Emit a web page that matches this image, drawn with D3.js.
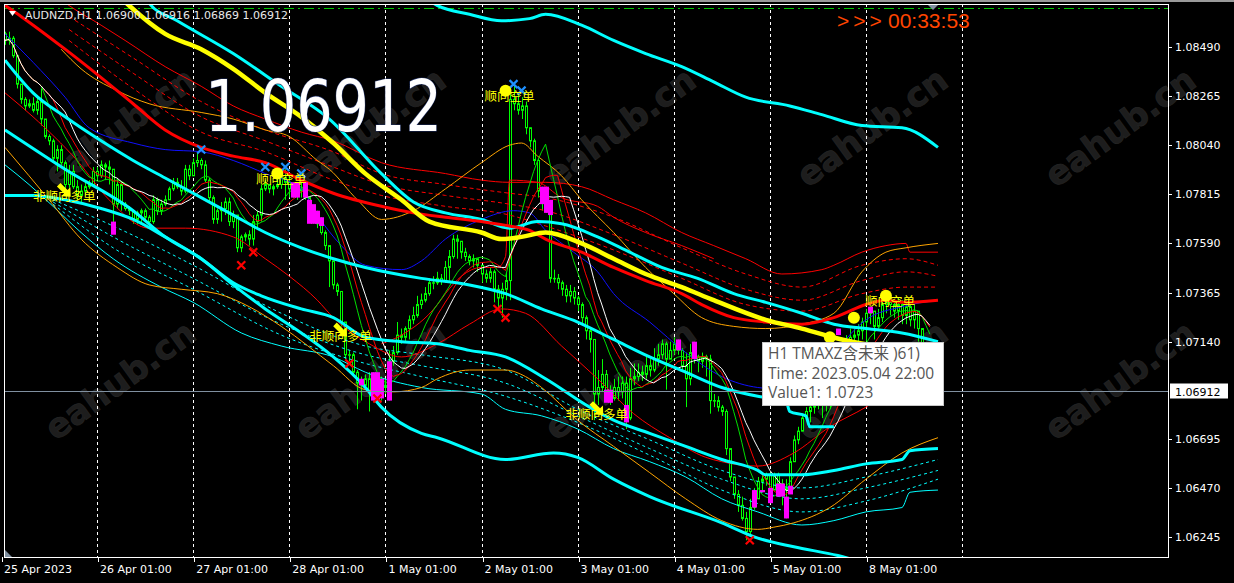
<!DOCTYPE html>
<html><head><meta charset="utf-8">
<script src="https://cdn.jsdelivr.net/npm/d3@7"></script>
<style>html,body{margin:0;padding:0;background:#000;overflow:hidden}svg{display:block}</style>
</head><body>
<svg id="c" width="1234" height="583"></svg>
<script>
// ---------------- DATA ----------------
const symbol = "AUDNZD,H1";
const headerOHLC = ["1.06900","1.06916","1.06869","1.06912"];
const bigPrice = "1.06912";
const countdown = "00:33:53";
const lastPrice = 1.06912;
const priceTicks = [1.08490,1.08265,1.08040,1.07815,1.07590,1.07365,1.07140,1.06695,1.06470,1.06245];
const dayStarts = [0,24,48,72,96,120,144,168,192,216,240];
const dayLabels = ["25 Apr 2023","26 Apr 01:00","27 Apr 01:00","28 Apr 01:00","1 May 01:00","2 May 01:00","3 May 01:00","4 May 01:00","5 May 01:00","8 May 01:00"];
const hLine = 1.0867;
const firstOpen = 1.0855;
const closes = [
1.0852,1.0853,1.0845,1.0832,1.0825,1.0822,1.0823,1.0820,1.0824,1.0816,
1.0808,1.0806,1.0798,1.0802,1.0796,1.0786,1.0792,1.0785,1.0781,1.0783,
1.0785,1.0786,1.0792,1.0790,1.0795,1.0794,1.0793,1.0777,1.0786,1.0777,
1.0775,1.0774,1.0770,1.0773,1.0774,1.0771,1.0769,1.0779,1.0774,1.0777,
1.0779,1.0784,1.0787,1.0785,1.0783,1.0793,1.0790,1.0796,1.0797,1.0795,
1.0788,1.0780,1.0770,1.0774,1.0775,1.0778,1.0769,1.0772,1.0757,1.0762,
1.0763,1.0761,1.0769,1.0772,1.0784,1.0786,1.0784,1.0785,1.0786,1.0789,
1.0787,1.0784,1.0781,1.0783,1.0784,1.0780,1.0772,1.0770,1.0768,1.0764,
1.0758,1.0751,1.0740,1.0737,1.0723,1.0708,1.0708,1.0700,1.0695,1.0694,
1.0697,1.0691,1.0692,1.0689,1.0694,1.0693,1.0705,1.0709,1.0717,1.0716,
1.0720,1.0724,1.0726,1.0731,1.0733,1.0736,1.0741,1.0741,1.0743,1.0742,
1.0748,1.0753,1.0761,1.0760,1.0755,1.0753,1.0751,1.0752,1.0749,1.0745,
1.0743,1.0746,1.0738,1.0734,1.0738,1.0742,1.0825,1.0823,1.0820,1.0822,
1.0812,1.0806,1.0797,1.0783,1.0780,1.0777,1.0743,1.0743,1.0741,1.0738,
1.0735,1.0737,1.0734,1.0731,1.0725,1.0719,1.0715,1.0690,1.0693,1.0699,
1.0690,1.0688,1.0693,1.0691,1.0695,1.0679,1.0697,1.0698,1.0700,1.0699,
1.0703,1.0701,1.0706,1.0708,1.0713,1.0706,1.0710,1.0713,1.0710,1.0703,
1.0697,1.0709,1.0707,1.0705,1.0707,1.0706,1.0687,1.0687,1.0684,1.0682,
1.0665,1.0652,1.0644,1.0639,1.0633,1.0627,1.0638,1.0642,1.0650,1.0651,
1.0653,1.0646,1.0653,1.0649,1.0646,1.0647,1.0659,1.0669,1.0673,1.0679,
1.0682,1.0684,1.0685,1.0687,1.0685,1.0690,1.0697,1.0701,1.0706,1.0710,
1.0713,1.0716,1.0717,1.0719,1.0723,1.0727,1.0728,1.0721,1.0725,1.0731,
1.0732,1.0731,1.0728,1.0731,1.0726,1.0730,1.0724,1.0728,1.0720,1.0706,
1.0690,1.06912];
const highs = [
1.0856,1.0856,1.0854,1.0845,1.0832,1.0826,1.0825,1.0826,1.0827,1.0830,
1.0816,1.0809,1.0807,1.0804,1.0804,1.0797,1.0795,1.0795,1.0788,1.0786,
1.0787,1.0788,1.0794,1.0794,1.0797,1.0796,1.0797,1.0790,1.0789,1.0787,
1.0778,1.0776,1.0774,1.0774,1.0775,1.0775,1.0772,1.0781,1.0780,1.0779,
1.0781,1.0785,1.0789,1.0789,1.0788,1.0795,1.0795,1.0798,1.0801,1.0798,
1.0797,1.0789,1.0781,1.0775,1.0778,1.0780,1.0780,1.0774,1.0771,1.0763,
1.0764,1.0765,1.0772,1.0774,1.0786,1.0788,1.0786,1.0786,1.0789,1.0792,
1.0793,1.0790,1.0787,1.0785,1.0788,1.0788,1.0780,1.0774,1.0774,1.0771,
1.0765,1.0758,1.0744,1.0741,1.0737,1.0723,1.0710,1.0709,1.0701,1.0698,
1.0699,1.0700,1.0700,1.0699,1.0698,1.0697,1.0710,1.0712,1.0723,1.0720,
1.0721,1.0726,1.0730,1.0735,1.0736,1.0739,1.0743,1.0744,1.0746,1.0745,
1.0751,1.0756,1.0763,1.0763,1.0758,1.0757,1.0754,1.0754,1.0752,1.0748,
1.0747,1.0748,1.0747,1.0740,1.0741,1.0746,1.0830,1.0832,1.0827,1.0826,
1.0824,1.0812,1.0807,1.0798,1.0785,1.0784,1.0777,1.0747,1.0745,1.0742,
1.0740,1.0740,1.0739,1.0735,1.0732,1.0726,1.0720,1.0715,1.0701,1.0706,
1.0701,1.0694,1.0697,1.0698,1.0698,1.0698,1.0702,1.0704,1.0704,1.0703,
1.0707,1.0706,1.0711,1.0713,1.0715,1.0714,1.0714,1.0716,1.0715,1.0711,
1.0709,1.0713,1.0714,1.0708,1.0709,1.0708,1.0708,1.0690,1.0689,1.0685,
1.0683,1.0665,1.0652,1.0646,1.0643,1.0636,1.0642,1.0647,1.0652,1.0653,
1.0654,1.0654,1.0654,1.0654,1.0651,1.0651,1.0661,1.0671,1.0675,1.0681,
1.0684,1.0686,1.0687,1.0690,1.0688,1.0692,1.0699,1.0705,1.0709,1.0715,
1.0717,1.0720,1.0720,1.0722,1.0725,1.0729,1.0730,1.0725,1.0729,1.0733,
1.0735,1.0734,1.0733,1.0734,1.0733,1.0733,1.0731,1.0731,1.0723,1.0720,
1.0707,1.06916];
const lows = [
1.0850,1.0850,1.0844,1.0830,1.0823,1.0820,1.0821,1.0819,1.0818,1.0813,
1.0807,1.0804,1.0796,1.0792,1.0795,1.0784,1.0781,1.0784,1.0779,1.0778,
1.0781,1.0784,1.0785,1.0788,1.0789,1.0788,1.0786,1.0764,1.0775,1.0774,
1.0774,1.0772,1.0768,1.0768,1.0768,1.0769,1.0766,1.0768,1.0772,1.0772,
1.0776,1.0779,1.0783,1.0784,1.0781,1.0782,1.0788,1.0790,1.0794,1.0793,
1.0787,1.0778,1.0768,1.0768,1.0769,1.0772,1.0767,1.0766,1.0755,1.0755,
1.0760,1.0758,1.0758,1.0766,1.0769,1.0783,1.0782,1.0781,1.0784,1.0784,
1.0779,1.0780,1.0780,1.0779,1.0780,1.0779,1.0769,1.0768,1.0766,1.0763,
1.0756,1.0739,1.0738,1.0735,1.0721,1.0706,1.0705,1.0698,1.0683,1.0687,
1.0692,1.0682,1.0688,1.0687,1.0687,1.0690,1.0687,1.0703,1.0708,1.0713,
1.0714,1.0715,1.0722,1.0725,1.0729,1.0732,1.0735,1.0738,1.0740,1.0740,
1.0741,1.0742,1.0752,1.0752,1.0752,1.0751,1.0749,1.0748,1.0746,1.0741,
1.0741,1.0741,1.0732,1.0728,1.0725,1.0733,1.0733,1.0820,1.0818,1.0816,
1.0809,1.0803,1.0795,1.0780,1.0774,1.0773,1.0741,1.0741,1.0738,1.0735,
1.0732,1.0732,1.0731,1.0728,1.0722,1.0715,1.0709,1.0678,1.0685,1.0691,
1.0687,1.0685,1.0687,1.0687,1.0688,1.0674,1.0678,1.0694,1.0696,1.0696,
1.0697,1.0698,1.0700,1.0703,1.0706,1.0692,1.0706,1.0708,1.0708,1.0700,
1.0684,1.0694,1.0704,1.0700,1.0702,1.0698,1.0681,1.0684,1.0682,1.0680,
1.0662,1.0650,1.0642,1.0636,1.0632,1.0623,1.0625,1.0637,1.0646,1.0645,
1.0648,1.0640,1.0650,1.0644,1.0639,1.0633,1.0646,1.0659,1.0667,1.0673,
1.0678,1.0677,1.0681,1.0683,1.0679,1.0682,1.0683,1.0694,1.0700,1.0705,
1.0708,1.0711,1.0713,1.0714,1.0715,1.0714,1.0722,1.0715,1.0720,1.0723,
1.0727,1.0726,1.0725,1.0724,1.0722,1.0722,1.0721,1.0720,1.0714,1.0703,
1.0688,1.06869];
// highlighted (magenta) bars: [bar, top, bottom]
const magentaBars = [[28,1.0769,1.0763],[73,1.0787,1.0780],[74,1.0787,1.0780],[76,1.0787,1.0780],[77,1.0779,1.0768],[78,1.0777,1.0768],[79,1.0774,1.0768],[80,1.0771,1.0767],
[90,1.0697,1.0694],[93,1.0700,1.0687],[94,1.0700,1.0687],[95,1.0697,1.0688],[97,1.0705,1.0687],[135,1.0785,1.0777],[136,1.0785,1.0773],[137,1.0779,1.0772],
[151,1.0692,1.0686],[152,1.0692,1.0686],[156,1.0685,1.0677],[169,1.0715,1.0710],[173,1.0714,1.0706],[188,1.0646,1.0638],[190,1.0646,1.0645],[192,1.0647,1.0640],
[194,1.0649,1.0643],[195,1.0649,1.0643],[196,1.0643,1.0633],[197,1.0648,1.0644],[209,1.0720,1.0717],[217,1.0730,1.0727]];
// indicator lines: [bar, price]
const yellowMA = [[28,1.0875],[32,1.0868],[41,1.0855],[50,1.0848],[58,1.0839],[66,1.0828],[75,1.0817],[83,1.0805],[91,1.0791],[100,1.0779],[107,1.0769],[120,1.0764],[125,1.0761],[130,1.0762],[136,1.0764],[145,1.0759],[153,1.0752],[161,1.0745],[170,1.0739],[178,1.0733],[191,1.0724],[200,1.0720],[210,1.0715],[234,1.0709]];
const cyanTop = [[103,1.0875],[109,1.0868],[117,1.0864],[125,1.0861],[132,1.0862],[136,1.0864],[145,1.0859],[153,1.0852],[161,1.0846],[170,1.0840],[178,1.0833],[186,1.0826],[197,1.0822],[205,1.0818],[215,1.0813],[225,1.0812],[234,1.0803]];
const cyanB = [[35,1.0875],[37,1.0869],[44,1.0861],[58,1.0846],[70,1.0831],[82,1.0816],[95,1.0791],[103,1.0778],[111,1.0773],[120,1.0770],[127,1.0766],[134,1.0769],[140,1.0768],[149,1.0762],[157,1.0755],[165,1.0748],[174,1.0743],[183,1.0736],[191,1.0732],[200,1.0727],[208,1.0722],[216,1.0720],[225,1.0718],[234,1.0714]];
const cyanC = [[1,1.0843],[8,1.0828],[16,1.0817],[25,1.0806],[33,1.0797],[41,1.0789],[50,1.0780],[58,1.0772],[66,1.0764],[75,1.0757],[83,1.0752],[91,1.0748],[105,1.0743],[117,1.0740],[126,1.0736],[135,1.0729],[144,1.0723],[153,1.0715],[162,1.0707],[171,1.0700],[180,1.0693],[189,1.0689],[196,1.0687],[197,1.0682],[201,1.0680],[202,1.0675],[208,1.0675]];
const cyanD = [[1,1.0811],[16,1.0793],[33,1.0774],[41,1.0762],[50,1.0752],[58,1.0740],[66,1.0729],[75,1.0718],[83,1.0707],[91,1.0693],[95,1.0684],[105,1.0672],[109,1.0670],[126,1.0660],[138,1.0663],[144,1.0661],[153,1.0651],[162,1.0643],[180,1.0631],[189,1.0624],[198,1.0620],[209,1.0616],[215,1.0613]];
const cyanE = [[1,1.0781],[8,1.0781],[16,1.0779],[25,1.0775],[33,1.0770],[41,1.0762],[50,1.0752],[58,1.0741],[65,1.0735],[75,1.0729],[83,1.0725],[91,1.0716],[100,1.0714],[109,1.0713],[117,1.0710],[126,1.0707],[136,1.0697],[147,1.0684],[153,1.0678],[162,1.0672],[171,1.0666],[180,1.0660],[189,1.0655],[191,1.0653],[200,1.0653],[208,1.0655],[216,1.0658],[225,1.0660],[227,1.0664],[234,1.0665]];
const redMA = [[1,1.0868],[5,1.0863],[16,1.0848],[25,1.0835],[33,1.0823],[41,1.0811],[50,1.0803],[58,1.0799],[66,1.0796],[75,1.0788],[83,1.0782],[95,1.0776],[103,1.0773],[111,1.0771],[120,1.0769],[127,1.0767],[132,1.0765],[136,1.0761],[145,1.0755],[153,1.0748],[161,1.0742],[170,1.0736],[175,1.0731],[183,1.0725],[191,1.0723],[200,1.0722],[208,1.0725],[216,1.0731],[221,1.0733],[225,1.0732],[234,1.0733]];
const redUpper = [[12,1.0875],[17,1.0868],[25,1.0859],[31,1.0852],[41,1.0840],[50,1.0831],[58,1.0822],[66,1.0816],[75,1.0810],[83,1.0806],[95,1.0796],[111,1.0791],[120,1.0788],[127,1.0787],[136,1.0787],[145,1.0785],[153,1.0779],[161,1.0773],[170,1.0764],[178,1.0758],[186,1.0752],[195,1.0745],[205,1.0747],[208,1.0749],[215,1.0755],[221,1.0758],[226,1.0759],[227,1.0755],[234,1.0755]];
const redDash1 = [[17,1.0863],[33,1.0844],[50,1.0824],[66,1.0811],[83,1.0801],[95,1.0791],[111,1.0786],[127,1.0782],[136,1.0780],[153,1.0771],[170,1.0757],[186,1.0745],[200,1.0739],[215,1.0749],[226,1.0752],[234,1.0749]];
const redDash2 = [[17,1.0857],[33,1.0837],[50,1.0817],[66,1.0806],[83,1.0794],[95,1.0786],[111,1.0781],[127,1.0777],[136,1.0774],[153,1.0763],[170,1.0750],[186,1.0738],[200,1.0733],[215,1.0742],[226,1.0746],[234,1.0744]];
const redDash3 = [[17,1.0852],[33,1.0830],[50,1.0810],[66,1.0801],[83,1.0788],[95,1.0781],[111,1.0776],[127,1.0772],[136,1.0767],[153,1.0756],[170,1.0743],[186,1.0731],[200,1.0728],[215,1.0736],[226,1.0739],[234,1.0739]];
const redLower = [[1,1.0828],[8,1.0817],[19,1.0797],[27,1.0779],[37,1.0766],[46,1.0766],[58,1.0762],[66,1.0752],[72,1.0744],[79,1.0733],[83,1.0725],[92,1.0713],[100,1.0707],[109,1.0713],[117,1.0722],[125,1.0729],[131,1.0727],[140,1.0712],[149,1.0697],[158,1.0681],[167,1.0670],[176,1.0661],[180,1.0659],[189,1.0657],[198,1.0663],[207,1.0675],[216,1.0684],[225,1.0695],[234,1.0704]];
const redBand = [[95,1.0713],[100,1.0717],[109,1.0731],[111,1.0736],[115,1.0744],[120,1.0748],[124,1.0748],[126,1.0753],[127,1.0788],[134,1.0787],[140,1.0780],[149,1.0776],[153,1.0771],[161,1.0764],[170,1.0758],[178,1.0752]];
const orangeUpper = [[15,1.0848],[20,1.0839],[29,1.0829],[37,1.0823],[50,1.0819],[58,1.0816],[66,1.0811],[72,1.0808],[79,1.0797],[82,1.0793],[89,1.0779],[95,1.0770],[103,1.0774],[111,1.0784],[120,1.0796],[127,1.0804],[130,1.0805],[134,1.0799],[140,1.0790],[145,1.0779],[153,1.0764],[161,1.0748],[168,1.0736],[175,1.0725],[183,1.0721],[191,1.0720],[200,1.0722],[208,1.0727],[215,1.0746],[221,1.0755],[226,1.0757],[234,1.0759]];
const orangeLower = [[1,1.0803],[7,1.0790],[12,1.0779],[20,1.0761],[29,1.0748],[37,1.0740],[45,1.0738],[54,1.0736],[62,1.0730],[70,1.0721],[83,1.0703],[91,1.0692],[98,1.0691],[105,1.0693],[109,1.0697],[117,1.0701],[126,1.0701],[131,1.0698],[135,1.0693],[144,1.0678],[153,1.0666],[162,1.0654],[171,1.0642],[180,1.0632],[189,1.0628],[193,1.0629],[198,1.0631],[207,1.0638],[216,1.0651],[225,1.0663],[234,1.0670]];
const blueMA = [[1,1.0855],[8,1.0842],[16,1.0826],[22,1.0812],[33,1.0805],[41,1.0802],[50,1.0801],[58,1.0797],[66,1.0791],[75,1.0784],[79,1.0772],[85,1.0758],[91,1.0749],[100,1.0747],[105,1.0751],[111,1.0761],[120,1.0770],[128,1.0774],[132,1.0773],[136,1.0765],[143,1.0755],[149,1.0746],[153,1.0736],[162,1.0723],[171,1.0709],[180,1.0698],[189,1.0693],[197,1.0692],[205,1.0699],[211,1.0715],[216,1.0724],[225,1.0730],[234,1.0733]];
const cyanThin = [[1,1.0795],[7,1.0786],[13,1.0776],[20,1.0764],[28,1.0752],[40,1.0739],[48,1.0732],[60,1.0718],[70,1.0712],[83,1.0707],[91,1.0700],[105,1.0693],[120,1.0690],[126,1.0683],[135,1.0680],[144,1.0674],[153,1.0665],[162,1.0659],[171,1.0652],[180,1.0642],[189,1.0636],[200,1.0630],[208,1.0632],[216,1.0636],[225,1.0638],[227,1.0645],[234,1.0646]];
const cyanDash1 = [[13,1.0779],[28,1.0767],[48,1.0749],[70,1.0727],[91,1.0712],[105,1.0708],[126,1.0701],[144,1.0683],[162,1.0669],[180,1.0655],[200,1.0647],[216,1.0652],[234,1.0660]];
const cyanDash2 = [[13,1.0778],[28,1.0762],[48,1.0743],[70,1.0722],[91,1.0708],[105,1.0703],[126,1.0695],[144,1.0680],[162,1.0665],[180,1.0651],[200,1.0642],[216,1.0647],[234,1.0655]];
const cyanDash3 = [[13,1.0777],[28,1.0757],[48,1.0738],[70,1.0717],[91,1.0704],[105,1.0698],[126,1.0689],[144,1.0677],[162,1.0662],[180,1.0646],[200,1.0636],[216,1.0641],[234,1.0651]];
// signals
const blueCrosses = [[50,1.0802],[66,1.0794],[71,1.0794],[75,1.0791],[128,1.0832],[130,1.0829]];
const redCrosses = [[60,1.0749],[63,1.0755],[87,1.0704],[94,1.0688],[124,1.0729],[126,1.0725],[187,1.0623]];
const buySignals = [[16,1.0783],[85,1.0719],[149,1.0683]];
const sellSignals = [[69,1.0791],[126,1.0829],[221,1.0735]];
const sellDots = [[207,1.0716],[213,1.0725]];
const buyText = "非顺向多单";
const sellText = "顺向空单";
const tooltipLines = ["H1 TMAXZ含未来 )61)","Time: 2023.05.04 22:00","Value1: 1.0723"];
const watermark = "eahub.cn";

// ---------------- DRAW ----------------
const svg = d3.select("#c");
const L = 4, R = 1168, T = 4, B = 557;
const x = d3.scaleLinear().domain([0,240]).range([1,962]);
const y = d3.scaleLinear().domain([1.06245,1.08490]).range([537,47]);

svg.append("rect").attr("width",1234).attr("height",583).attr("fill","#000");
svg.append("rect").attr("x",0).attr("y",0).attr("width",1234).attr("height",2).attr("fill","#9a9a9a");
svg.append("defs").append("clipPath").attr("id","plot").append("rect")
  .attr("x",L).attr("y",T).attr("width",R-L).attr("height",B-T);

// watermarks (faint, behind the chart content)
const wm = [];
[127,380].forEach(cy=>[120,370,620,872,1120].forEach(cx=>wm.push([cx,cy])));
svg.selectAll("text.wm").data(wm).join("text")
  .attr("transform",d=>`translate(${d[0]},${d[1]}) rotate(-36)`)
  .attr("text-anchor","middle").attr("dominant-baseline","central").text(watermark)
  .attr("font-size",34).attr("font-weight","bold").attr("font-family","'DejaVu Sans',sans-serif")
  .attr("fill","#1d1d1d").attr("stroke","#242424").attr("stroke-width",0.8);

const g = svg.append("g").attr("clip-path","url(#plot)");

// grid
g.selectAll("line.grid").data(dayStarts.slice(1)).join("line")
  .attr("x1",d=>Math.round(x(d))+0.5).attr("x2",d=>Math.round(x(d))+0.5).attr("y1",T).attr("y2",B)
  .attr("stroke","#fff").attr("stroke-dasharray","3,3").attr("stroke-width",1);

// horizontal dash-dot line
g.append("line").attr("x1",L).attr("x2",R).attr("y1",Math.round(y(hLine))+0.5).attr("y2",Math.round(y(hLine))+0.5)
  .attr("stroke","#00c800").attr("stroke-dasharray","10,4,2,4");

// candles
const bars = closes.map((c,i)=>({t:i+1, o: i?closes[i-1]:firstOpen, h:highs[i], l:lows[i], c}));
const cg = g.append("g");
cg.selectAll("line").data(bars).join("line")
  .attr("x1",d=>Math.round(x(d.t))+0.5).attr("x2",d=>Math.round(x(d.t))+0.5)
  .attr("y1",d=>y(d.h)).attr("y2",d=>y(d.l)).attr("stroke","#00ff00");
cg.selectAll("rect").data(bars).join("rect")
  .attr("x",d=>Math.round(x(d.t))-0.5).attr("width",2)
  .attr("y",d=>y(Math.max(d.o,d.c))).attr("height",d=>Math.max(0.5,Math.abs(y(d.o)-y(d.c))))
  .attr("fill","#000").attr("stroke","#00ff00");

// fast moving averages derived from closes
function sma(n){ return closes.map((c,i)=>[i+1, d3.mean(closes.slice(Math.max(0,i-n+1),i+1))]); }
const lin = d3.line().x(d=>x(d[0])).y(d=>y(d[1]));
const smooth = d3.line().x(d=>x(d[0])).y(d=>y(d[1])).curve(d3.curveMonotoneX);
function draw(data, color, w, dash, gen){
  g.append("path").attr("d",(gen||smooth)(data)).attr("fill","none").attr("stroke",color)
   .attr("stroke-width",w).attr("stroke-dasharray",dash||null).attr("stroke-linejoin","round");
}
draw(cyanDash1,"#00ffff",1,"3,3");
draw(cyanDash2,"#00ffff",1,"3,3");
draw(cyanDash3,"#00ffff",1,"3,3");
draw(cyanThin,"#00ffff",1);
draw(redDash1,"#ff0000",1,"4,3");
draw(redDash2,"#ff0000",1,"4,3");
draw(redDash3,"#ff0000",1,"4,3");
draw(redUpper,"#ff0000",1);
draw(redLower,"#ff0000",1);
draw(redBand,"#ff0000",1);
draw(orangeUpper,"#ffa500",1);
draw(orangeLower,"#ffa500",1);
draw(blueMA,"#1010ff",1);
draw(sma(10),"#00e000",1,null,lin);
draw(sma(13),"#ff0000",1,null,lin);
draw(sma(16),"#ffffff",1,null,lin);
draw(cyanTop,"#00ffff",3);
draw(cyanB,"#00ffff",3);
draw(cyanC,"#00ffff",3);
draw(cyanD,"#00ffff",3);
draw(cyanE,"#00ffff",3);
draw(redMA,"#ff0000",3);
draw(yellowMA,"#ffff00",4.5);

// magenta highlight bars
g.selectAll("rect.mg").data(magentaBars).join("rect")
  .attr("x",d=>Math.round(x(d[0]))-2).attr("width",5)
  .attr("y",d=>y(d[1])).attr("height",d=>Math.max(2,y(d[2])-y(d[1]))).attr("fill","#ff00ff");

// crosses
function crosses(data,color){
  g.selectAll(null).data(data).join("path")
   .attr("transform",d=>`translate(${x(d[0])},${y(d[1])})`)
   .attr("d","M-4,-4L4,4M-4,4L4,-4").attr("stroke",color).attr("stroke-width",2.2).attr("fill","none");
}
crosses(blueCrosses,"#1e90ff");
crosses(redCrosses,"#ff0000");

// buy signals (arrow + label)
const cjk = "'Noto Sans CJK SC','Noto Sans CJK JP',sans-serif";
g.selectAll(null).data(buySignals).join("text")
  .attr("x",d=>x(d[0])-32).attr("y",d=>y(d[1])+10).text(buyText)
  .attr("fill","#ffff00").attr("font-size",12.5).attr("font-family",cjk);
g.selectAll(null).data(buySignals).join("path")
  .attr("transform",d=>`translate(${x(d[0])},${y(d[1])}) rotate(45)`)
  .attr("d","M-9,-2.5L1,-2.5L1,-6.5L8,0L1,6.5L1,2.5L-9,2.5Z").attr("fill","#ffff00");
// sell signals
g.selectAll(null).data(sellSignals).join("text")
  .attr("x",d=>x(d[0])-21).attr("y",d=>y(d[1])+10).text(sellText)
  .attr("fill","#ffff00").attr("font-size",12.5).attr("font-family",cjk);
g.selectAll(null).data(sellSignals.concat(sellDots)).join("circle")
  .attr("cx",d=>x(d[0])).attr("cy",d=>y(d[1])).attr("r",6).attr("fill","#ffff00");

// current price line
const py = Math.round(y(lastPrice))+0.5;
g.append("line").attr("x1",L).attr("x2",R).attr("y1",py).attr("y2",py).attr("stroke","#8090a0");

// frame
svg.append("rect").attr("x",L+0.5).attr("y",T+0.5).attr("width",R-L).attr("height",B-T)
  .attr("fill","none").attr("stroke","#fff");
svg.append("path").attr("d",`M${L+1},${B-7}L${L+1},${B}L${L+8},${B}Z`).attr("fill","#8090a0");

// right axis
const axf = "'DejaVu Sans',sans-serif";
svg.selectAll("line.yt").data(priceTicks).join("line")
  .attr("x1",R).attr("x2",R+4).attr("y1",d=>Math.round(y(d))+0.5).attr("y2",d=>Math.round(y(d))+0.5).attr("stroke","#fff");
svg.selectAll("text.yl").data(priceTicks).join("text")
  .attr("x",R+7).attr("y",d=>y(d)+4).text(d=>d.toFixed(5))
  .attr("fill","#fff").attr("font-size",11).attr("font-family",axf);
svg.append("rect").attr("x",R+2).attr("y",py-8).attr("width",58).attr("height",15).attr("fill","#fff");
svg.append("text").attr("x",R+7).attr("y",py+4).text(lastPrice.toFixed(5))
  .attr("fill","#000").attr("font-size",11).attr("font-family",axf);

// bottom axis
svg.selectAll("line.xt").data(dayStarts.slice(0,10)).join("line")
  .attr("x1",d=>Math.round(x(d))+1.5).attr("x2",d=>Math.round(x(d))+1.5).attr("y1",B).attr("y2",B+5).attr("stroke","#fff");
svg.selectAll("text.xl").data(dayStarts.slice(0,10)).join("text")
  .attr("x",d=>x(d)+3).attr("y",573).text((d,i)=>dayLabels[i])
  .attr("fill","#fff").attr("font-size",11).attr("font-family",axf);

// header
svg.append("path").attr("d","M9,11L16,11L12.5,16Z").attr("fill","#fff");
svg.append("text").attr("x",25).attr("y",19).text(symbol+"  "+headerOHLC.join(" "))
  .attr("fill","#e8e8e8").attr("font-size",11).attr("font-family",axf);

// shift marker
svg.append("path").attr("d","M928,5L938,5L933,10Z").attr("fill","#8090a0");

// big price
svg.append("text").attr("x",205).attr("y",131).text(bigPrice)
  .attr("fill","#fff").attr("stroke","#1c2c60").attr("stroke-width",1.2).attr("paint-order","stroke")
  .attr("font-size",72).attr("font-family","'Comic Sans MS','DejaVu Sans',sans-serif")
  .attr("textLength",237).attr("lengthAdjust","spacingAndGlyphs");

// countdown
svg.append("text").attr("x",837).attr("y",28).text(">>>").attr("letter-spacing",4)
  .attr("fill","#ff4500").attr("font-size",21).attr("font-family","'Liberation Sans',Arial,sans-serif");
svg.append("text").attr("x",888).attr("y",28).text(countdown)
  .attr("fill","#ff4500").attr("font-size",21).attr("font-family","'Liberation Sans',Arial,sans-serif");

// tooltip
svg.append("rect").attr("x",762.5).attr("y",342.5).attr("width",181).attr("height",63)
  .attr("fill","#fff").attr("stroke","#c8c8c8");
svg.selectAll("text.tt").data(tooltipLines).join("text")
  .attr("x",768).attr("y",(d,i)=>359+i*19.5).text(d=>d)
  .attr("fill","#555").attr("font-size",15.5).attr("font-family","'Open Sans','Noto Sans CJK SC',sans-serif");
</script>
</body></html>
